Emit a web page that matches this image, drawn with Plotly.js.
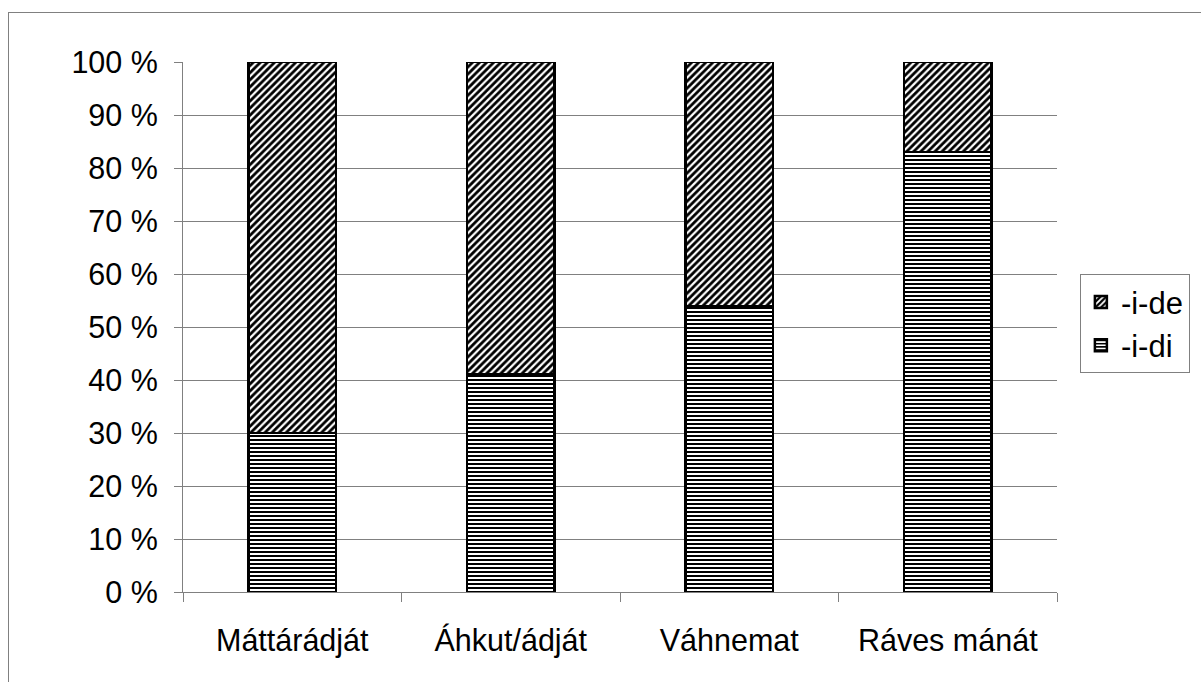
<!DOCTYPE html>
<html>
<head>
<meta charset="utf-8">
<script src="https://cdn.plot.ly/plotly-3.0.1.min.js"></script>
<style>
html,body{margin:0;padding:0;background:#fff;}
#frame{position:absolute;left:8px;top:12px;width:1300px;height:800px;border-left:1px solid #808080;border-top:1px solid #808080;}
#chart{position:absolute;left:0;top:0;width:1201px;height:682px;}
</style>
</head>
<body>
<div id="frame"></div>
<div id="chart"></div>
<script>
const categories = ["Máttárádját", "Áhkut/ádját", "Váhnemat", "Ráves mánát"];
const idiValues = [30, 41, 54, 83];
const ideValues = [70, 59, 46, 17];
const yTickVals = [0, 10, 20, 30, 40, 50, 60, 70, 80, 90, 100];
const yTickText = ["0 %", "10 %", "20 %", "30 %", "40 %", "50 %", "60 %", "70 %", "80 %", "90 %", "100 %"];

const traces = [
  {
    type: "bar", name: "-i-di", x: categories, y: idiValues,
    marker: {color: "white", line: {color: "black", width: 2.5},
      pattern: {shape: "-", fgcolor: "black", bgcolor: "white", size: 4, solidity: 0.5}},
    hoverinfo: "none"
  },
  {
    type: "bar", name: "-i-de", x: categories, y: ideValues,
    marker: {color: "white", line: {color: "black", width: 2.5},
      pattern: {shape: "/", fgcolor: "black", bgcolor: "white", size: 5, solidity: 0.55}},
    hoverinfo: "none"
  }
];

const layout = {
  width: 1201, height: 682,
  margin: {l: 183, r: 143, t: 62, b: 90},
  paper_bgcolor: "rgba(0,0,0,0)",
  plot_bgcolor: "rgba(0,0,0,0)",
  barmode: "stack",
  bargap: 0.6,
  font: {family: "Liberation Sans, Arial, sans-serif", size: 30.5, color: "black"},
  xaxis: {
    type: "category", showline: true, linecolor: "#808080", linewidth: 1,
    ticks: "outside", tickson: "boundaries", ticklen: 9, tickcolor: "#808080",
    showgrid: false, ticklabelstandoff: 21, zeroline: false
  },
  yaxis: {
    range: [0, 100], tickmode: "array", tickvals: yTickVals, ticktext: yTickText,
    showline: true, linecolor: "#808080", linewidth: 1,
    ticks: "outside", ticklen: 8, tickcolor: "#808080",
    showgrid: true, gridcolor: "#808080", gridwidth: 1, zeroline: false,
    ticklabelstandoff: 10
  },
  legend: {
    x: 1.025, xanchor: "left", y: 0.506, yanchor: "middle",
    bordercolor: "#808080", borderwidth: 1, bgcolor: "white",
    font: {size: 31}, tracegroupgap: 6
  },
  showlegend: true
};

Plotly.newPlot("chart", traces, layout, {displayModeBar: false, staticPlot: true});
</script>
</body>
</html>
